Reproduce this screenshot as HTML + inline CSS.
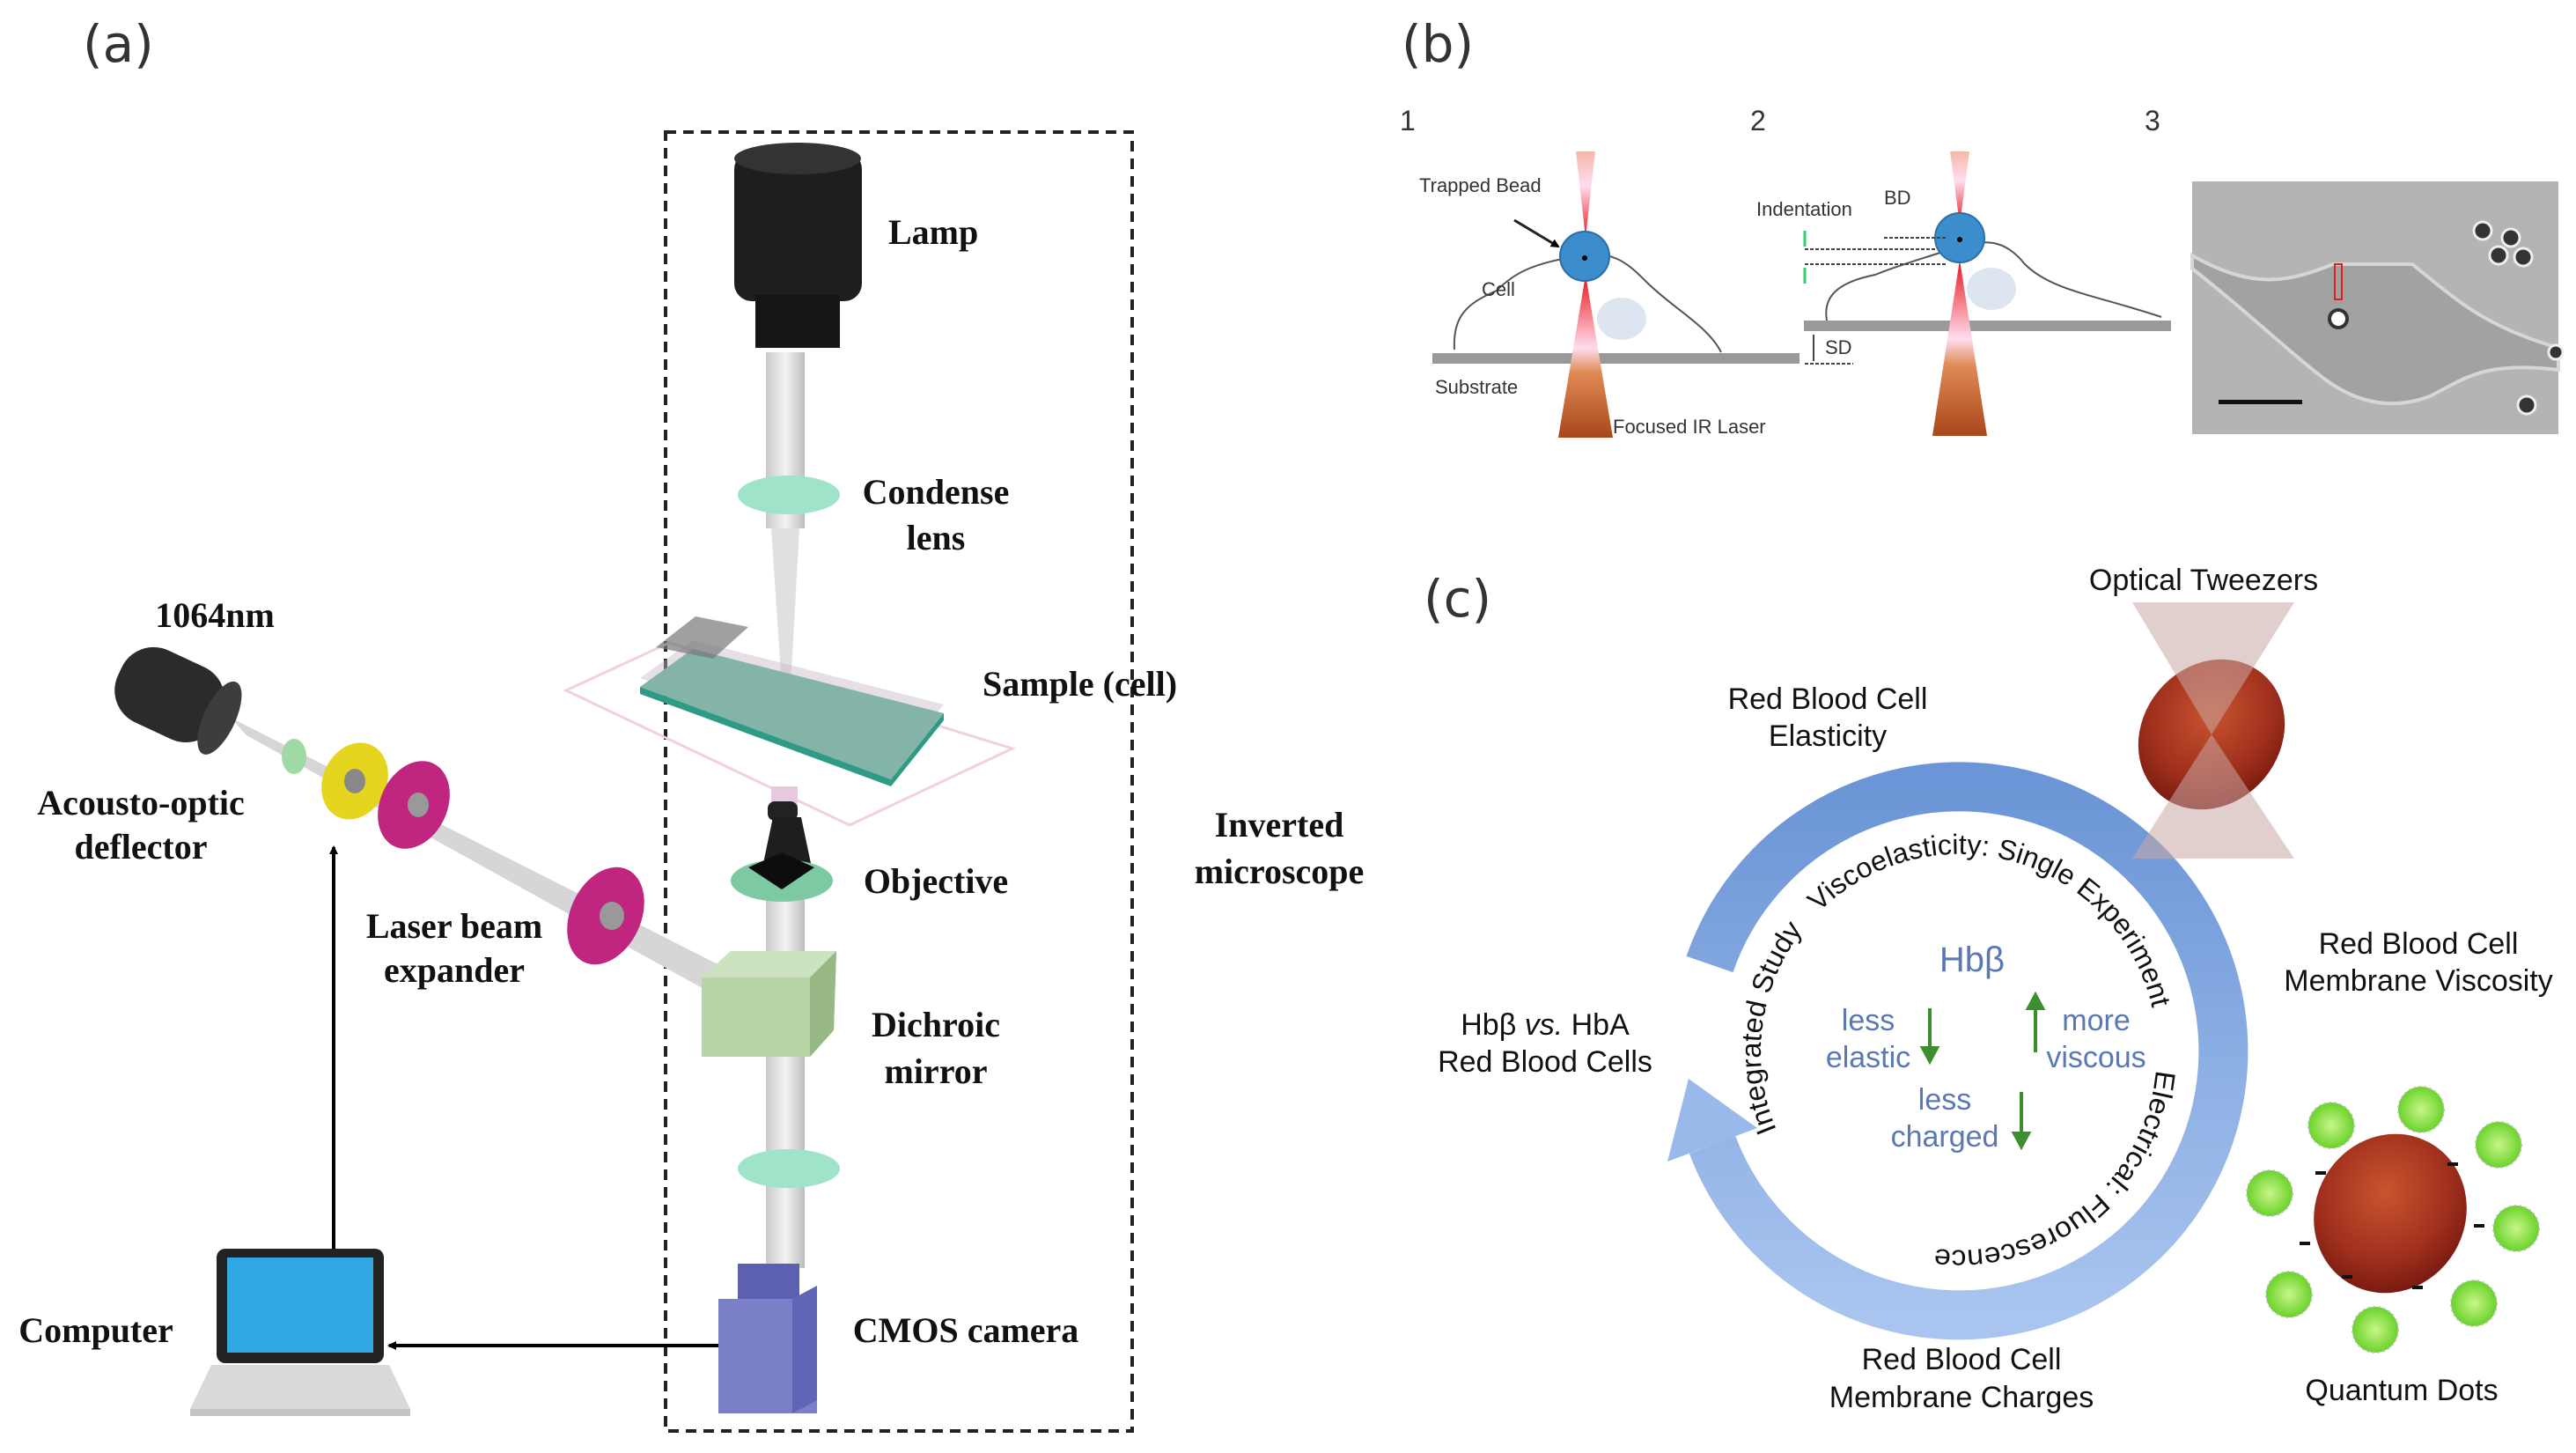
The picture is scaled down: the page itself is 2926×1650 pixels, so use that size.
<!DOCTYPE html>
<html><head><meta charset="utf-8"><style>
html,body{margin:0;padding:0;background:#fff}
svg{display:block}
.sl{font-family:"Liberation Serif",serif;font-weight:bold;font-size:40px;fill:#111}
.pl{font-family:"DejaVu Sans","Liberation Sans",sans-serif;font-size:58px;fill:#333}
.sm{font-family:"Liberation Sans",sans-serif;font-size:22px;fill:#333}
.cl{font-family:"Liberation Sans",sans-serif;font-size:34px;fill:#111}
.bl{font-family:"Liberation Sans",sans-serif;font-size:34px;fill:#5a78b4}
.rt{font-family:"Liberation Sans",sans-serif;font-size:32px;fill:#111}
</style></head><body>
<svg width="2926" height="1650" viewBox="0 0 2926 1650" xmlns="http://www.w3.org/2000/svg">
<defs>
<linearGradient id="ring" x1="0" y1="0" x2="0" y2="1"><stop offset="0" stop-color="#6b95d6"/><stop offset="1" stop-color="#a9c5ef"/></linearGradient>
<linearGradient id="beam" x1="0" y1="0" x2="1" y2="0"><stop offset="0" stop-color="#c9c9c9"/><stop offset="0.5" stop-color="#f2f2f2"/><stop offset="1" stop-color="#bdbdbd"/></linearGradient>
<linearGradient id="redtop" x1="0" y1="0" x2="0" y2="1"><stop offset="0" stop-color="#f4b9a8"/><stop offset="0.4" stop-color="#fde"/><stop offset="1" stop-color="#e8141b"/></linearGradient>
<linearGradient id="redbot" x1="0" y1="0" x2="0" y2="1"><stop offset="0" stop-color="#e8141b"/><stop offset="0.45" stop-color="#fde"/><stop offset="0.6" stop-color="#e08a55"/><stop offset="1" stop-color="#a8471a"/></linearGradient>
<radialGradient id="rbc" cx="0.4" cy="0.4" r="0.7"><stop offset="0" stop-color="#c8542f"/><stop offset="0.6" stop-color="#a0301d"/><stop offset="1" stop-color="#6e140e"/></radialGradient>
<radialGradient id="qd" cx="0.5" cy="0.5" r="0.5"><stop offset="0" stop-color="#c8f58a"/><stop offset="1" stop-color="#6ad32a"/></radialGradient>
<marker id="ah" markerWidth="10" markerHeight="10" refX="8" refY="5" orient="auto" markerUnits="userSpaceOnUse"><path d="M0,0 L10,5 L0,10 z" fill="#000"/></marker>
<path id="topArc" d="M2066,1036 A225,225 0 0 1 2447,1156"/>
<path id="botArc" d="M2449,1215 A225,225 0 0 1 2167,1412"/>
<path id="leftArc" d="M2018,1283 A225,225 0 0 1 2058,1044"/>
</defs>

<!-- ===== PANEL A ===== -->
<text x="94" y="70" class="pl">(a)</text>
<rect x="756" y="150" width="530" height="1475" fill="none" stroke="#222" stroke-width="4" stroke-dasharray="12,8"/>

<rect x="870" y="400" width="44" height="200" fill="url(#beam)"/>
<polygon points="876,600 908,600 898,780 888,780" fill="#e0e0e0"/>
<rect x="870" y="1010" width="44" height="430" fill="url(#beam)"/>
<polygon points="262,815 280,835 830,1140 845,1110" fill="#d6d6d6"/>
<rect x="834" y="172" width="145" height="170" rx="20" fill="#1e1e1e"/>
<ellipse cx="906" cy="180" rx="72" ry="18" fill="#333"/>
<rect x="858" y="335" width="96" height="60" fill="#151515"/>
<ellipse cx="896" cy="562" rx="58" ry="22" fill="#9fe3c8"/>
<text x="1063" y="572" class="sl" text-anchor="middle">Condense</text>
<text x="1063" y="624" class="sl" text-anchor="middle">lens</text>
<text x="1009" y="277" class="sl">Lamp</text>
<!-- sample plane -->
<polygon points="643,784 760,730 1150,850 965,937" fill="none" stroke="#f3cfe2" stroke-width="3"/>
<polygon points="727,770 787,727 1072,800 1012,875" fill="#c7b8c8" opacity="0.45"/>
<polygon points="727,780 787,737 1072,810 1012,885" fill="#84b3a8"/>
<polygon points="727,780 1012,885 1012,893 727,788" fill="#2f9a86"/>
<polygon points="1012,885 1072,810 1072,818 1012,893" fill="#2f9a86"/>
<polygon points="745,735 790,700 850,712 810,748" fill="#777" opacity="0.7"/>
<rect x="876" y="893" width="30" height="30" fill="#e6c9df"/>
<text x="1116" y="790" class="sl">Sample (cell)</text>
<rect x="872" y="910" width="34" height="22" rx="8" fill="#222"/>
<polygon points="878,928 910,928 922,985 866,985" fill="#1e1e1e"/>
<ellipse cx="888" cy="1000" rx="58" ry="24" fill="#7cc9a4"/>
<polygon points="850,985 888,968 925,985 888,1010" fill="#0d0d0d"/>
<text x="1063" y="1014" class="sl" text-anchor="middle">Objective</text>
<polygon points="797,1110 830,1080 950,1080 947,1170 920,1200 797,1200" fill="#b7d4a6"/>
<polygon points="797,1110 830,1080 950,1080 920,1110" fill="#cde3bf"/>
<polygon points="920,1110 950,1080 947,1170 920,1200" fill="#98b986"/>
<text x="1063" y="1177" class="sl" text-anchor="middle">Dichroic</text>
<text x="1063" y="1230" class="sl" text-anchor="middle">mirror</text>
<ellipse cx="896" cy="1327" rx="58" ry="22" fill="#9fe3c8"/>
<rect x="838" y="1435" width="70" height="50" fill="#5d60b0"/>
<rect x="816" y="1475" width="112" height="130" fill="#7b7fc8"/>
<polygon points="900,1475 928,1460 928,1590 900,1605" fill="#6265b5"/>
<text x="1097" y="1524" class="sl" text-anchor="middle">CMOS camera</text>
<text x="1453" y="950" class="sl" text-anchor="middle">Inverted</text>
<text x="1453" y="1003" class="sl" text-anchor="middle">microscope</text>

<g transform="rotate(25 195 790)"><rect x="130" y="745" width="125" height="90" rx="40" fill="#2b2b2b"/><ellipse cx="255" cy="790" rx="18" ry="45" fill="#3d3d3d"/></g>
<text x="244" y="712" class="sl" text-anchor="middle">1064nm</text>
<ellipse cx="334" cy="859" rx="14" ry="20" fill="#9fd9a4"/>
<ellipse cx="403" cy="887" rx="36" ry="45" fill="#e5d51e" transform="rotate(25 403 887)"/>
<ellipse cx="403" cy="887" rx="12" ry="14" fill="#888"/>
<ellipse cx="470" cy="914" rx="38" ry="52" fill="#c02580" transform="rotate(25 470 914)"/>
<ellipse cx="475" cy="914" rx="12" ry="14" fill="#999"/>
<ellipse cx="688" cy="1040" rx="40" ry="58" fill="#c02580" transform="rotate(25 688 1040)"/>
<ellipse cx="695" cy="1040" rx="14" ry="16" fill="#999"/>
<text x="160" y="925" class="sl" text-anchor="middle">Acousto-optic</text>
<text x="160" y="975" class="sl" text-anchor="middle">deflector</text>
<text x="516" y="1065" class="sl" text-anchor="middle">Laser beam</text>
<text x="516" y="1115" class="sl" text-anchor="middle">expander</text>

<rect x="246" y="1418" width="190" height="130" rx="10" fill="#222"/>
<rect x="258" y="1428" width="166" height="108" fill="#31a8e4"/>
<polygon points="240,1550 442,1550 466,1600 216,1600" fill="#d9d9d9"/>
<rect x="216" y="1600" width="250" height="8" fill="#c4c4c4"/>
<text x="109" y="1524" class="sl" text-anchor="middle">Computer</text>
<line x1="379" y1="1418" x2="379" y2="962" stroke="#000" stroke-width="4" marker-end="url(#ah)"/>
<line x1="816" y1="1528" x2="442" y2="1528" stroke="#000" stroke-width="4" marker-end="url(#ah)"/>

<!-- ===== PANEL B ===== -->
<text x="1592" y="70" class="pl">(b)</text>
<text x="1590" y="148" class="sm" style="font-size:32px">1</text>
<text x="1988" y="148" class="sm" style="font-size:32px">2</text>
<text x="2436" y="148" class="sm" style="font-size:32px">3</text>
<path d="M1652,397 C1650,360 1665,345 1700,330 C1720,310 1740,300 1785,292 C1830,280 1850,300 1870,320 C1900,350 1940,370 1955,400" fill="#fff" stroke="#555" stroke-width="2"/>
<ellipse cx="1842" cy="362" rx="28" ry="24" fill="#dde6f0"/>
<rect x="1627" y="401" width="417" height="12" fill="#999"/>
<polygon points="1790,172 1812,172 1801,270" fill="url(#redtop)"/>
<polygon points="1801,312 1770,497 1832,497" fill="url(#redbot)"/>
<circle cx="1800" cy="291" r="28" fill="#3b8dcc" stroke="#2a6fa5" stroke-width="2"/>
<circle cx="1800" cy="293" r="3" fill="#000"/>
<line x1="1720" y1="250" x2="1770" y2="280" stroke="#222" stroke-width="3" marker-end="url(#ah)"/>
<text x="1612" y="218" class="sm">Trapped Bead</text>
<text x="1683" y="336" class="sm">Cell</text>
<text x="1630" y="447" class="sm">Substrate</text>
<text x="1832" y="492" class="sm">Focused IR Laser</text>
<path d="M2075,364 C2070,335 2090,320 2130,312 C2160,300 2180,295 2225,280 C2260,270 2280,275 2300,300 C2330,330 2380,335 2455,360" fill="#fff" stroke="#555" stroke-width="2"/>
<ellipse cx="2262" cy="328" rx="28" ry="24" fill="#dde6f0"/>
<rect x="2049" y="364" width="417" height="12" fill="#999"/>
<polygon points="2215,172 2237,172 2226,255" fill="url(#redtop)"/>
<polygon points="2226,295 2195,495 2257,495" fill="url(#redbot)"/>
<circle cx="2226" cy="270" r="28" fill="#3b8dcc" stroke="#2a6fa5" stroke-width="2"/>
<circle cx="2226" cy="272" r="3" fill="#000"/>
<g stroke="#444" stroke-width="2" stroke-dasharray="4,2"><line x1="2140" y1="270" x2="2210" y2="270"/><line x1="2050" y1="283" x2="2200" y2="283"/><line x1="2050" y1="300" x2="2210" y2="300"/><line x1="2050" y1="413" x2="2105" y2="413"/></g>
<path d="M2050,262 v18 M2050,322 v-18" stroke="#2ecc71" stroke-width="3"/>
<text x="1995" y="245" class="sm">Indentation</text>
<text x="2140" y="232" class="sm">BD</text>
<text x="2073" y="402" class="sm">SD</text>
<line x1="2060" y1="380" x2="2060" y2="410" stroke="#444" stroke-width="2"/>
<rect x="2490" y="206" width="416" height="287" fill="#b4b4b4"/>
<path d="M2490,290 C2560,330 2600,320 2650,300 L2740,300 C2790,340 2820,370 2906,395 L2906,420 C2820,410 2800,430 2760,450 C2720,465 2680,460 2640,430 C2600,400 2560,360 2490,305 Z" fill="#a2a2a2" stroke="#d6d6d6" stroke-width="4"/>
<circle cx="2656" cy="362" r="10" fill="#fff" stroke="#333" stroke-width="4"/>
<rect x="2652" y="300" width="8" height="40" fill="none" stroke="#e02020" stroke-width="2"/>
<g fill="#333" stroke="#eee" stroke-width="3"><circle cx="2820" cy="262" r="10"/><circle cx="2852" cy="270" r="10"/><circle cx="2838" cy="290" r="10"/><circle cx="2866" cy="292" r="10"/><circle cx="2870" cy="460" r="10"/><circle cx="2903" cy="400" r="8"/></g>
<rect x="2520" y="454" width="95" height="5" fill="#111"/>

<!-- ===== PANEL C ===== -->
<text x="1617" y="700" class="pl">(c)</text>
<path d="M1942,1095 A300,300 0 1 1 1945,1300" fill="none" stroke="url(#ring)" stroke-width="56"/>
<polygon points="1894,1319 1996,1281 1918,1225" fill="#99b9ea"/>
<text class="rt"><textPath href="#topArc" textLength="480" lengthAdjust="spacingAndGlyphs">Viscoelasticity: Single Experiment</textPath></text>
<text class="rt"><textPath href="#botArc" textLength="360" lengthAdjust="spacingAndGlyphs">Electrical: Fluorescence</textPath></text>
<text class="rt"><textPath href="#leftArc" textLength="240" lengthAdjust="spacingAndGlyphs">Integrated Study</textPath></text>
<text x="2240" y="1103" class="bl" text-anchor="middle" style="font-size:40px">Hbβ</text>
<text x="2122" y="1170" class="bl" text-anchor="middle">less</text>
<text x="2122" y="1212" class="bl" text-anchor="middle">elastic</text>
<text x="2381" y="1170" class="bl" text-anchor="middle">more</text>
<text x="2381" y="1212" class="bl" text-anchor="middle">viscous</text>
<text x="2209" y="1260" class="bl" text-anchor="middle">less</text>
<text x="2209" y="1302" class="bl" text-anchor="middle">charged</text>
<g stroke="#3e8e2f" stroke-width="4" fill="#3e8e2f"><line x1="2192" y1="1145" x2="2192" y2="1195"/><polygon points="2184,1190 2200,1190 2192,1205"/><line x1="2312" y1="1140" x2="2312" y2="1195"/><polygon points="2304,1145 2320,1145 2312,1130"/><line x1="2296" y1="1240" x2="2296" y2="1292"/><polygon points="2288,1287 2304,1287 2296,1302"/></g>
<text x="2076" y="805" class="cl" text-anchor="middle">Red Blood Cell</text>
<text x="2076" y="847" class="cl" text-anchor="middle">Elasticity</text>
<text x="2747" y="1083" class="cl" text-anchor="middle">Red Blood Cell</text>
<text x="2747" y="1125" class="cl" text-anchor="middle">Membrane Viscosity</text>
<text x="1755" y="1175" class="cl" text-anchor="middle">Hbβ <tspan font-style="italic">vs.</tspan> HbA</text>
<text x="1755" y="1217" class="cl" text-anchor="middle">Red Blood Cells</text>
<text x="2228" y="1555" class="cl" text-anchor="middle">Red Blood Cell</text>
<text x="2228" y="1598" class="cl" text-anchor="middle">Membrane Charges</text>
<text x="2503" y="670" class="cl" text-anchor="middle">Optical Tweezers</text>
<text x="2728" y="1590" class="cl" text-anchor="middle">Quantum Dots</text>
<ellipse cx="2512" cy="834" rx="78" ry="90" fill="url(#rbc)" transform="rotate(40 2512 834)"/>
<polygon points="2422,684 2606,684 2512,834 2606,975 2422,975 2512,834" fill="#c8a8a4" opacity="0.55"/>
<ellipse cx="2715" cy="1378" rx="85" ry="92" fill="url(#rbc)" transform="rotate(30 2715 1378)"/>
<g fill="url(#qd)" stroke="#bbb" stroke-width="2" stroke-dasharray="2,4">
<circle cx="2648" cy="1278" r="26"/><circle cx="2750" cy="1260" r="26"/><circle cx="2838" cy="1300" r="26"/><circle cx="2858" cy="1395" r="26"/><circle cx="2810" cy="1480" r="26"/><circle cx="2698" cy="1510" r="26"/><circle cx="2600" cy="1470" r="26"/><circle cx="2578" cy="1355" r="26"/></g>
<g fill="#111"><rect x="2630" y="1330" width="12" height="4"/><rect x="2780" y="1320" width="12" height="4"/><rect x="2810" y="1390" width="12" height="4"/><rect x="2660" y="1448" width="12" height="4"/><rect x="2740" y="1460" width="12" height="4"/><rect x="2612" y="1410" width="12" height="4"/></g>
</svg>
</body></html>
